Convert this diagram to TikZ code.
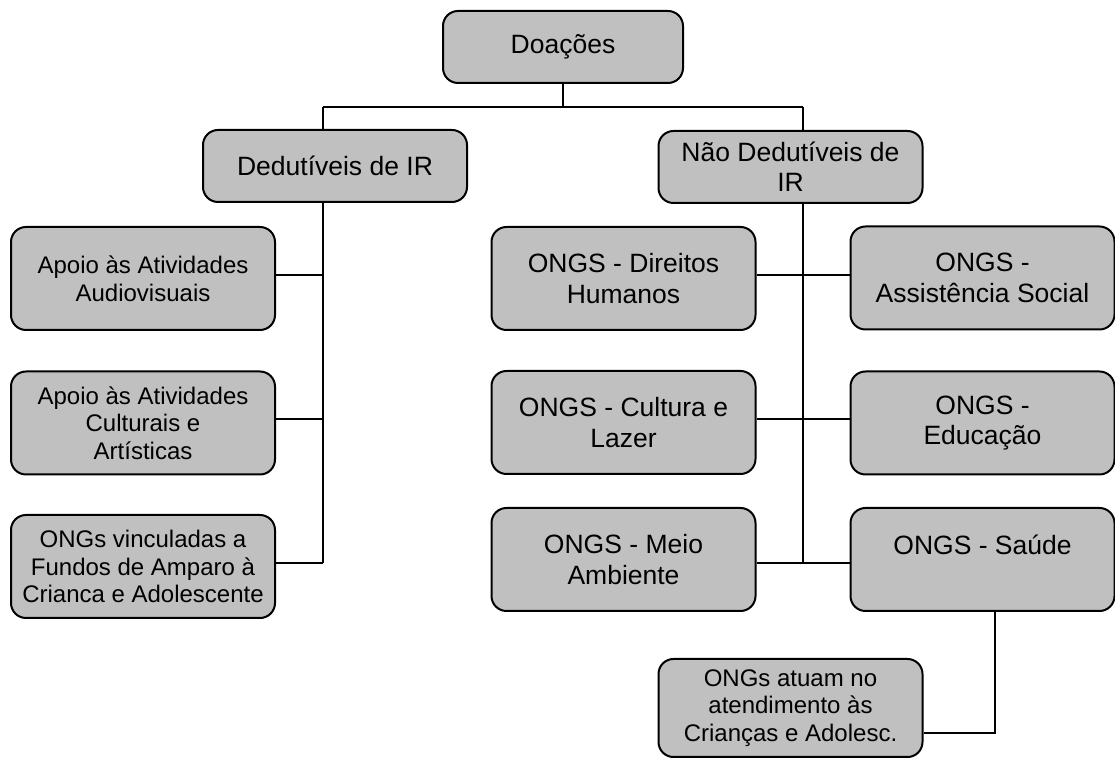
\documentclass[tikz,border=0pt]{standalone}
\usepackage{fontspec}
\setmainfont{Liberation Sans}
\definecolor{cinza}{RGB}{192,192,192}
\begin{document}
\begin{tikzpicture}[x=0.5pt, y=-0.5pt, line width=1pt]

\tikzstyle{every node}=[font=\fontsize{13.25}{15.2}\selectfont]
\tikzstyle{caixa} = [rectangle, draw, fill=cinza, align=center, rounded corners=7.5pt, minimum height=51.5pt, minimum width=132pt, inner sep=2pt]
\tikzstyle{topo} = [minimum height=36pt]
\tikzstyle{menor} = [font=\fontsize{12}{13.8}\selectfont]

\useasboundingbox (0,0) rectangle (1115,758);

% Nodos
\node[caixa, topo, minimum width=120pt] (doacoes) at (563,47) {Doações};
\node[caixa, topo] (dedut) at (335,166) {Dedutíveis de IR};
\node[caixa, topo] (naodedut) at (790.5,167) {Não Dedutíveis de\\IR};

\node[caixa, menor] (audio) at (143,278.5) {Apoio às Atividades\\Audiovisuais};
\node[caixa, menor] (cultura) at (143,423) {Apoio às Atividades\\Culturais e\\Artísticas};
\node[caixa, menor] (fundos) at (143,566.5) {ONGs vinculadas a\\Fundos de Amparo à\\Crianca e Adolescente};

\node[caixa] (direitos) at (623.5,278.5) {ONGS - Direitos\\Humanos};
\node[caixa] (lazer) at (623.5,422.5) {ONGS - Cultura e\\Lazer};
\node[caixa] (meio) at (623.5,559.5) {ONGS - Meio\\Ambiente};
\node[caixa] (assist) at (982.5,278) {ONGS -\\Assistência Social};
\node[caixa] (educ) at (982.5,423) {ONGS -\\Educação};
\node[caixa] (saude) at (982.5,559.5) {ONGS - Saúde\\\mbox{}};
\node[caixa, menor, minimum height=49pt] (atuam) at (790.5,708) {ONGs atuam no\\atendimento às\\Crianças e Adolesc.};

% Pontos
\coordinate (e0) at (323,107);
\coordinate (d0) at (803,107);
\coordinate (e1) at (323,275);
\coordinate (e2) at (323,419);
\coordinate (e3) at (323,563);
\coordinate (d1) at (803,275);
\coordinate (d2) at (803,419);
\coordinate (d3) at (803,563);
\coordinate (s1) at (995,733);

% Linhas
\draw (doacoes.south) -- (doacoes.south |- e0);
\draw (e0) -- (d0);
\draw (e0) -- (e0 |- dedut.north);
\draw (d0) -- (d0 |- naodedut.north);

\draw (e0 |- dedut.south) -- (e3);
\draw (audio.east |- e1) -- (e1);
\draw (cultura.east |- e2) -- (e2);
\draw (fundos.east |- e3) -- (e3);

\draw (d0 |- naodedut.south) -- (d3);
\draw (direitos.east |- d1) -- (assist.west |- d1);
\draw (lazer.east |- d2) -- (educ.west |- d2);
\draw (meio.east |- d3) -- (saude.west |- d3);

\draw (s1 |- saude.south) -- (s1) -- (atuam.east |- s1);

\end{tikzpicture}
\end{document}
